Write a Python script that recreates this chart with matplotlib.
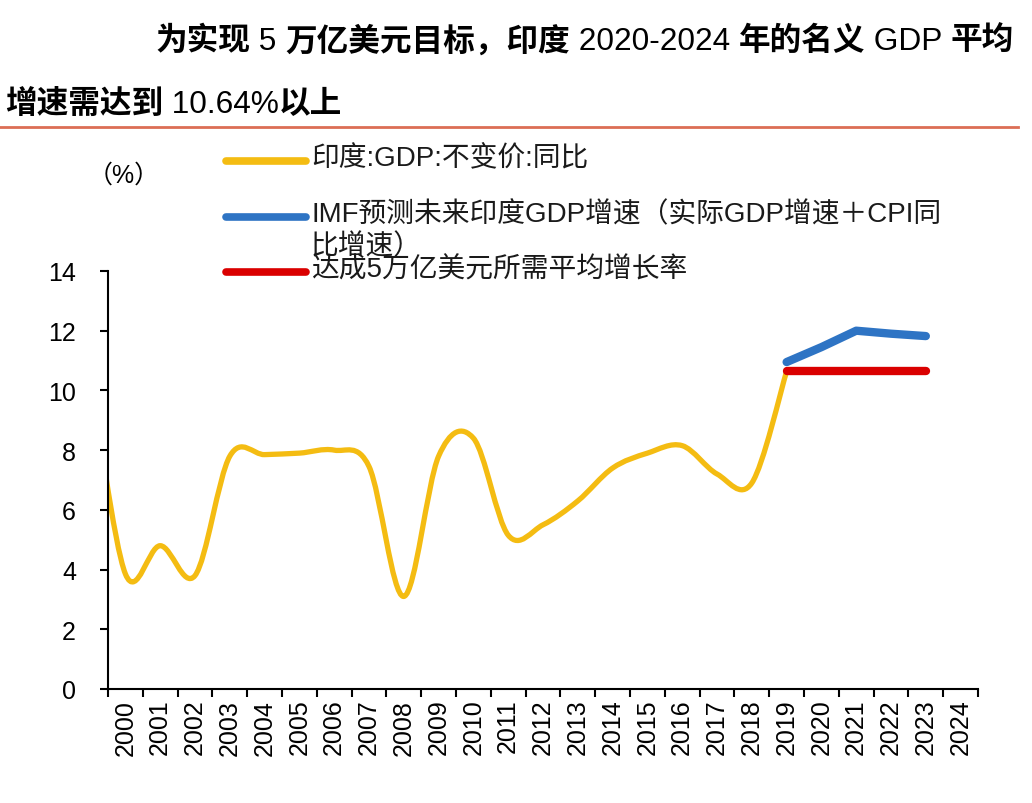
import numpy as np
import matplotlib
matplotlib.use("Agg")
import matplotlib.pyplot as plt
from matplotlib.path import Path
from matplotlib.patches import PathPatch
from matplotlib.lines import Line2D

plt.rcParams['font.family'] = ['Liberation Sans', 'Noto Sans CJK SC', 'DejaVu Sans']

# data
years = [str(y) for y in range(2000, 2025)]
# actual GDP growth, 1999 is only the clipped tail at the left edge
gdp_years = list(range(1999, 2020))
gdp_growth = [10.5, 3.85, 4.8, 3.8, 7.8, 7.85, 7.9, 8.0, 7.45, 3.1, 7.8,
              8.4, 5.15, 5.5, 6.3, 7.4, 7.9, 8.15, 7.2, 6.9, 10.64]
imf_years = [2019, 2020, 2021, 2022, 2023]
imf_growth = [10.95, 11.45, 12.0, 11.9, 11.82]
target_years = [2019, 2020, 2021, 2022, 2023]
target_growth = [10.64, 10.64, 10.64, 10.64, 10.64]

labels = ['印度:GDP:不变价:同比',
          'IMF预测未来印度GDP增速（实际GDP增速＋CPI同\n比增速）',
          '达成5万亿美元所需平均增长率']
colors = ['#F4BC12', '#2E74C4', '#DA0000']

title1 = [('为实现', 'bold'), (' 5 ', 'normal'), ('万亿美元目标，印度', 'bold'),
          (' 2020-2024 ', 'normal'), ('年的名义', 'bold'), (' GDP ', 'normal'),
          ('平均', 'bold')]
title2 = [('增速需达到', 'bold'), (' 10.64%', 'normal'), ('以上', 'bold')]


def smooth_path(xs, ys):
    # excel-like smoothed line: catmull-rom segments as cubic beziers
    pts = np.column_stack([xs, ys]).astype(float)
    n = len(pts)
    verts = [pts[0]]
    codes = [Path.MOVETO]
    for i in range(n - 1):
        p0 = pts[max(i - 1, 0)]
        p1 = pts[i]
        p2 = pts[i + 1]
        p3 = pts[min(i + 2, n - 1)]
        c1 = p1 + (p2 - p0) / 6.0
        c2 = p2 - (p3 - p1) / 6.0
        verts += [c1, c2, p2]
        codes += [Path.CURVE4] * 3
    return Path(verts, codes)


def mixed_text(fig, x, y, parts, size):
    # chinese bold, latin regular, one piece after the other
    r = fig.canvas.get_renderer()
    for s, w in parts:
        t = fig.text(x, y, s, fontsize=size, fontweight=w, ha='left', va='center')
        x += t.get_window_extent(r).width / fig.bbox.width


fig = plt.figure(figsize=(10.32, 8.04), dpi=100)
ax = fig.add_axes([0.1047, 0.1418, 0.843, 0.5199])

x_gdp = [y - 2000 for y in gdp_years]
ax.add_patch(PathPatch(smooth_path(x_gdp, gdp_growth), fill=False,
                       edgecolor=colors[0], lw=3.8, joinstyle='round',
                       capstyle='round', zorder=2))
ax.plot([y - 2000 for y in imf_years], imf_growth, color=colors[1], lw=6,
        solid_capstyle='round', solid_joinstyle='round', zorder=3)
ax.plot([y - 2000 for y in target_years], target_growth, color=colors[2], lw=6,
        solid_capstyle='round', zorder=4)

ax.set_xlim(-0.5, len(years) - 0.5)
ax.set_ylim(0, 14)
ax.set_yticks(range(0, 15, 2))
ax.set_xticks(range(len(years)))
ax.set_xticklabels(years, rotation=90)
ax.set_xticks(np.arange(-0.5, len(years), 1), minor=True)
ax.tick_params(axis='x', which='major', length=0, pad=7, labelsize=18)
ax.tick_params(axis='x', which='minor', length=6, width=1.5, direction='out')
ax.tick_params(axis='y', length=6, width=1.5, pad=17, labelsize=18)
for s in ['top', 'right']:
    ax.spines[s].set_visible(False)
for s in ['left', 'bottom']:
    ax.spines[s].set_linewidth(1.5)

# title
mixed_text(fig, 155 / 1032, 1 - 42 / 804, title1, 22.8)
mixed_text(fig, 5 / 1032, 1 - 105 / 804, title2, 22.8)
fig.add_artist(Line2D([0, 1018 / 1032], [1 - 128 / 804] * 2,
                      color='#DC6E55', lw=2, transform=fig.transFigure))

fig.text(88 / 1032, 1 - 176 / 804, '（%）', fontsize=18, ha='left', va='center')

# legend drawn by hand so the wrapped label overlaps like the original
rows = [162, 218, 273]
for lab, col, r in zip(labels, colors, rows):
    yf = 1 - r / 804
    fig.add_artist(Line2D([226 / 1032, 306 / 1032], [yf, yf], color=col, lw=5.5,
                          solid_capstyle='round', transform=fig.transFigure))
    fig.text(311 / 1032, 1 - (r - 16) / 804, lab, fontsize=20, color='#1a1a1a',
             ha='left', va='top', linespacing=1.25)

fig.savefig('out.png', dpi=100, facecolor='white')
